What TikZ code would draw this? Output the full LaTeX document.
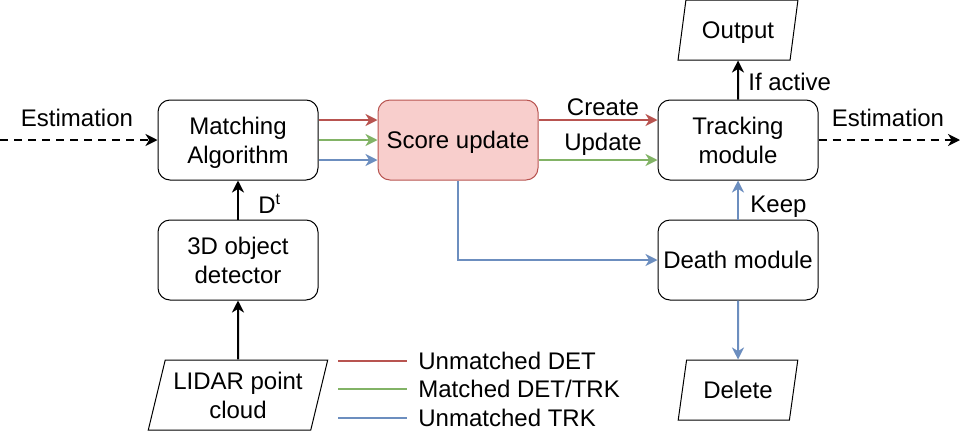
\documentclass[tikz,border=0pt]{standalone}
\usepackage{fontspec}
\setmainfont{Liberation Sans}
\usetikzlibrary{arrows.meta,shapes.geometric}

\definecolor{redline}{HTML}{B85450}
\definecolor{greenline}{HTML}{82B366}
\definecolor{blueline}{HTML}{6C8EBF}
\definecolor{redfill}{HTML}{F8CECC}

\tikzset{
	block/.style={draw, rounded corners=6pt, line width=0.5pt, minimum width=80pt,
		minimum height=40pt, align=center, inner sep=0pt, text depth=0pt},
	iobox/.style={draw, trapezium, trapezium left angle=72, trapezium right angle=108,
		trapezium stretches=true, minimum width=60pt, minimum height=30pt,
		align=center, inner sep=0pt, line width=0.5pt, text depth=0pt},
	flow/.style={line width=1pt, -{Stealth[length=6pt,width=6pt,inset=1.8pt]}},
	est/.style={flow, dash pattern=on 4pt off 3pt},
	legline/.style={line width=0.75pt},
	lbl/.style={inner sep=0pt}
}

\begin{document}
\begin{tikzpicture}[x=0.5pt, y=-0.5pt, font=\fontsize{12}{14.5}\selectfont]
	
	\useasboundingbox (0,0) rectangle (968,434);
	
	% boxes
	\node[block] (match) at (238,140) {Matching\\Algorithm};
	\node[block, fill=redfill, draw=redline] (score) at (458,140) {Score update};
	\node[block] (track) at (738,140) {Tracking\\module};
	\node[block] (det) at (238,260) {3D object\\detector};
	\node[block] (death) at (738,260) {Death module};
	
	\node[iobox] (out) at (738,30) {Output};
	\node[iobox] (del) at (738,390) {Delete};
	\node[iobox, minimum width=90pt, minimum height=35pt] (lidar) at (238,395) {LIDAR point\\cloud};
	
	\coordinate (estin) at (0,140);
	\coordinate (estout) at (960,140);
	
	% connectors
	\draw[est] (estin) -- (match.west);
	\draw[est] (track.east) -- (estout);
	
	\draw[flow] (lidar.north) -- (det.south);
	\draw[flow] (det.north) -- (match.south);
	\draw[flow] (track.north) -- (out.south);
	
	\draw[flow, redline] ([yshift=10pt]match.east) -- ([yshift=10pt]score.west);
	\draw[flow, greenline] (match.east) -- (score.west);
	\draw[flow, blueline] ([yshift=-10pt]match.east) -- ([yshift=-10pt]score.west);
	
	\draw[flow, redline] ([yshift=10pt]score.east) -- ([yshift=10pt]track.west);
	\draw[flow, greenline] ([yshift=-10pt]score.east) -- ([yshift=-10pt]track.west);
	\draw[flow, blueline] (score.south) |- (death.west);
	\draw[flow, blueline] (death.north) -- (track.south);
	\draw[flow, blueline] (death.south) -- (del.north);
	
	% labels
	\node[lbl, anchor=base] (estinlbl) at (77,126) {Estimation};
	\node[lbl, anchor=base] (estoutlbl) at (888,126) {Estimation};
	\node[lbl, anchor=base] (create) at (603,115) {Create};
	\node[lbl, anchor=base] (update) at (603,150) {Update};
	\node[lbl, anchor=base west] (active) at (748,90) {If active};
	\node[lbl, anchor=base west] (keep) at (750,212) {Keep};
	\node[lbl, anchor=base west] (dt) at (258,213) {D\textsuperscript{t}};
	
	% legend
	\node[lbl, anchor=west] (legdet) at (418,361) {Unmatched DET};
	\node[lbl, anchor=west] (legboth) at (418,389) {Matched DET/TRK};
	\node[lbl, anchor=west] (legtrk) at (418,418) {Unmatched TRK};
	\draw[legline, redline] ([xshift=-40pt]legdet.west) -- ([xshift=-5.5pt]legdet.west);
	\draw[legline, greenline] ([xshift=-40pt]legboth.west) -- ([xshift=-5.5pt]legboth.west);
	\draw[legline, blueline] ([xshift=-40pt]legtrk.west) -- ([xshift=-5.5pt]legtrk.west);
	
\end{tikzpicture}
\end{document}
